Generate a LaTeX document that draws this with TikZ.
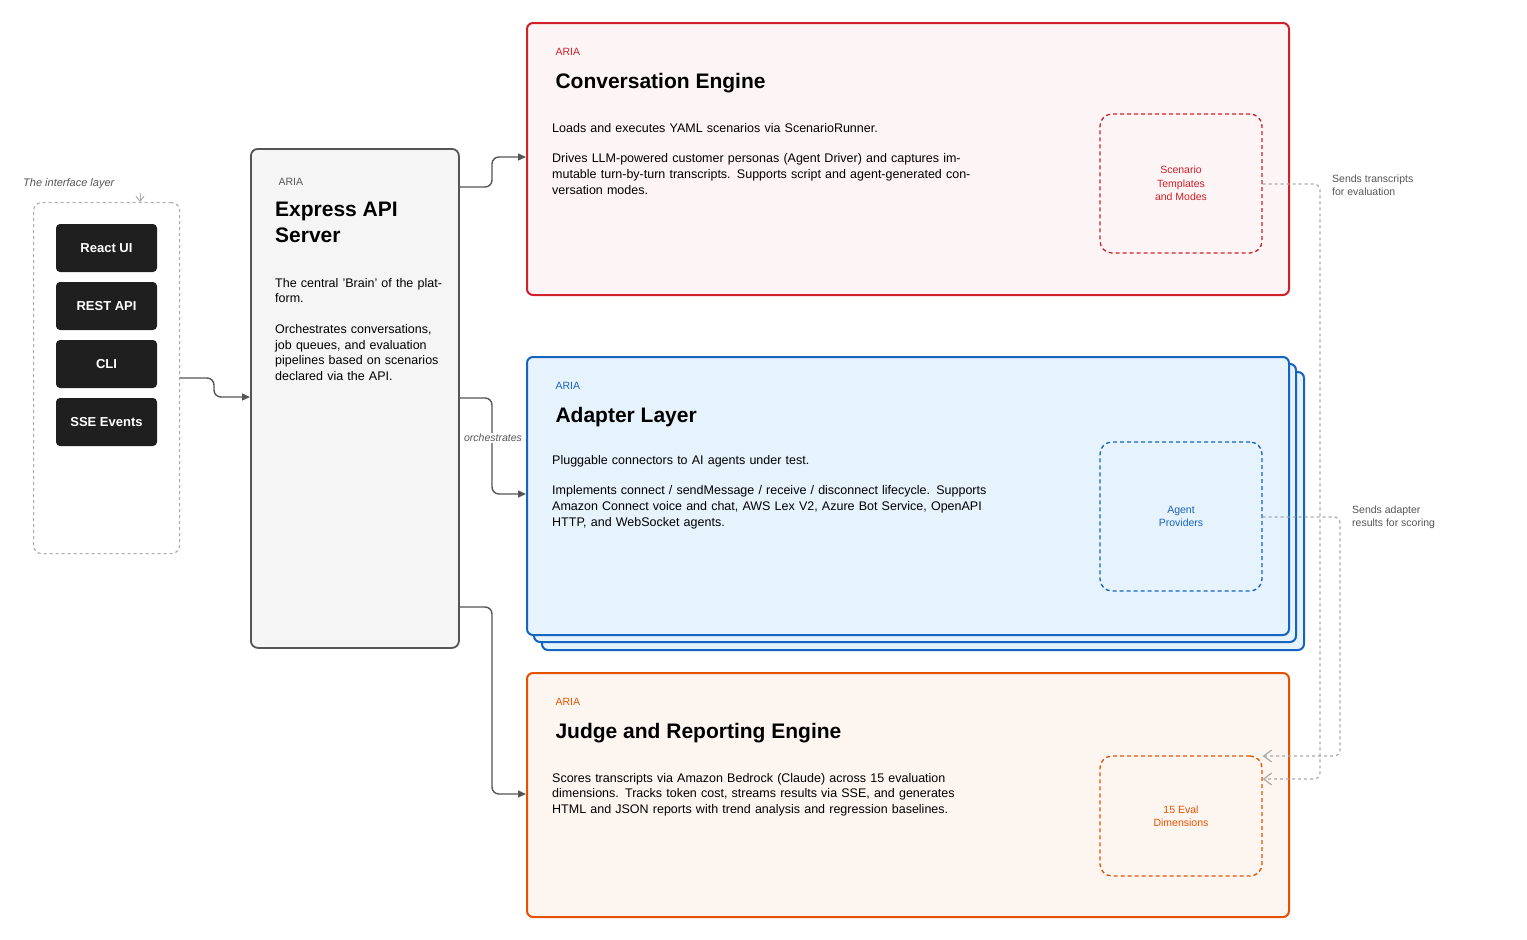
\documentclass[tikz,border=0pt]{standalone}
\usepackage{fontspec}
\setmainfont{Liberation Sans}
\usetikzlibrary{arrows.meta,calc}
\definecolor{cred}{HTML}{D0202A}\definecolor{cblue}{HTML}{1565C0}\definecolor{corg}{HTML}{E65100}
\definecolor{fred}{HTML}{FDF5F5}\definecolor{fblue}{HTML}{E6F2FC}\definecolor{forg}{HTML}{FDF6F0}
\definecolor{dgrey}{HTML}{555555}\definecolor{lgrey}{HTML}{AAAAAA}
\begin{document}
\begin{tikzpicture}[x=1pt,y=-1pt,
 big/.style={rounded corners=6pt,line width=2pt},
 inner/.style={rounded corners=12pt,dashed,line width=1.3pt,dash pattern=on 4pt off 3pt},
 btn/.style={fill=black!88,rounded corners=4pt,text=white,font=\bfseries\fontsize{13}{15}\selectfont},
 aria/.style={anchor=west,font=\fontsize{10.5}{12}\selectfont},
 ttl/.style={anchor=west,font=\bfseries\fontsize{21}{25}\selectfont},
 body/.style={anchor=north west,align=left,font=\fontsize{12.5}{15.6}\selectfont,text width=#1,inner sep=0pt},
 conn/.style={-{Triangle[length=8pt,width=7pt]},draw=dgrey,line width=1.4pt,rounded corners=7pt},
 dconn/.style={-{Straight Barb[length=8pt,width=12pt]},draw=lgrey,line width=1.2pt,dashed,rounded corners=6pt},
 small/.style={anchor=west,align=left,text=dgrey,font=\fontsize{10.5}{13}\selectfont,inner sep=0pt}]
\useasboundingbox (0,0) rectangle (1527,940);
% interface layer
\node[draw=lgrey,dashed,line width=1.2pt,rounded corners=8pt,minimum width=146pt,minimum height=351pt,anchor=north west,inner sep=0pt] (intf) at (33,202) {};
\node[anchor=west,font=\itshape\fontsize{11}{13}\selectfont,text=dgrey,inner sep=0pt] (intl) at (23,184) {The interface layer};
\coordinate (intt) at (140,202);
\draw[-{Straight Barb[length=5pt,width=8pt]},draw=lgrey,line width=1pt] (140,193) -- (intt);
\foreach \n/\y/\t in {b1/248/React UI,b2/306/REST API,b3/364/CLI,b4/422/SSE Events}
  \node[btn,minimum width=101pt,minimum height=48pt] (\n) at (106.5,\y) {\t};
% express
\node[draw=dgrey,fill=black!4,rounded corners=7pt,line width=1.8pt,minimum width=208pt,minimum height=499pt,anchor=north west] (exp) at (250,148) {};
\node[aria,text=dgrey] (expa) at (275,182) {ARIA};
\node[anchor=north west,align=left,font=\bfseries\fontsize{21}{26}\selectfont,inner sep=0pt] (expt) at (275,202) {Express API\\Server};
\node[body=170pt] (expb) at (275,278) {The central 'Brain' of the platform.\\[15pt]Orchestrates conversations, job queues, and evaluation pipelines based on scenarios declared via the API.};
% conversation
\node[draw=cred,fill=fred,big,minimum width=762pt,minimum height=272pt,anchor=north west] (conv) at (526,22) {};
\node[aria,text=cred] at (552,52) {ARIA};
\node[ttl] at (552,83) {Conversation Engine};
\node[body=440pt] at (552,123) {Loads and executes YAML scenarios via ScenarioRunner.\\[15pt]Drives LLM-powered customer personas (Agent Driver) and captures immutable turn-by-turn transcripts. Supports script and agent-generated conversation modes.};
\node[draw=cred,inner,minimum width=162pt,minimum height=139pt,text=cred,align=center,font=\fontsize{10.5}{13.5}\selectfont] (scen) at (1181,183.5) {Scenario\\Templates\\and Modes};
% adapter
\draw[cblue,fill=fblue,big] (542,372) rectangle (1304,650);
\draw[cblue,fill=fblue,big] (534,364) rectangle (1296,642);
\node[draw=cblue,fill=fblue,big,minimum width=762pt,minimum height=278pt,anchor=north west] (adp) at (526,356) {};
\node[aria,text=cblue] at (552,386) {ARIA};
\node[ttl] at (552,417) {Adapter Layer};
\node[body=455pt] at (552,455) {Pluggable connectors to AI agents under test.\\[15pt]Implements connect / sendMessage / receive / disconnect lifecycle. Supports Amazon Connect voice and chat, AWS Lex V2, Azure Bot Service, OpenAPI HTTP, and WebSocket agents.};
\node[draw=cblue,inner,minimum width=162pt,minimum height=149pt,text=cblue,align=center,font=\fontsize{10.5}{13.5}\selectfont] (agent) at (1181,516.5) {Agent\\Providers};
% judge
\node[draw=corg,fill=forg,big,minimum width=762pt,minimum height=244pt,anchor=north west] (jdg) at (526,672) {};
\node[aria,text=corg] at (552,702) {ARIA};
\node[ttl] at (552,733) {Judge and Reporting Engine};
\node[body=420pt] at (552,773) {Scores transcripts via Amazon Bedrock (Claude) across 15 evaluation dimensions. Tracks token cost, streams results via SSE, and generates HTML and JSON reports with trend analysis and regression baselines.};
\node[draw=corg,inner,minimum width=162pt,minimum height=120pt,text=corg,align=center,font=\fontsize{10.5}{13.5}\selectfont] (eval) at (1181,816) {15 Eval\\Dimensions};
% connectors
\draw[conn] (intf.east |- 0,378) -- (214,378) -- (214,397) -- (exp.west |- 0,397);
\draw[conn] (exp.east |- 0,187) -- (492,187) -- (492,157) -- (conv.west |- 0,157);
\draw[conn] (exp.east |- 0,398) -- (492,398) -- (492,494) -- (adp.west |- 0,494);
\node[fill=white,inner sep=1pt,font=\itshape\fontsize{10.5}{12}\selectfont,text=dgrey] (orch) at (493,438) {orchestrates};
\draw[conn] (exp.east |- 0,607) -- (492,607) -- (492,794) -- (jdg.west |- 0,794);
\draw[dconn] (scen.east |- 0,184) -- (1320,184) -- (1320,779) -- (eval.east |- 0,779);
\draw[dconn] (agent.east |- 0,517) -- (1340,517) -- (1340,756) -- (eval.east |- 0,756);
\node[small] (l1) at (1332,185) {Sends transcripts\\for evaluation};
\node[small] (l2) at (1352,517) {Sends adapter\\results for scoring};
\end{tikzpicture}
\end{document}
